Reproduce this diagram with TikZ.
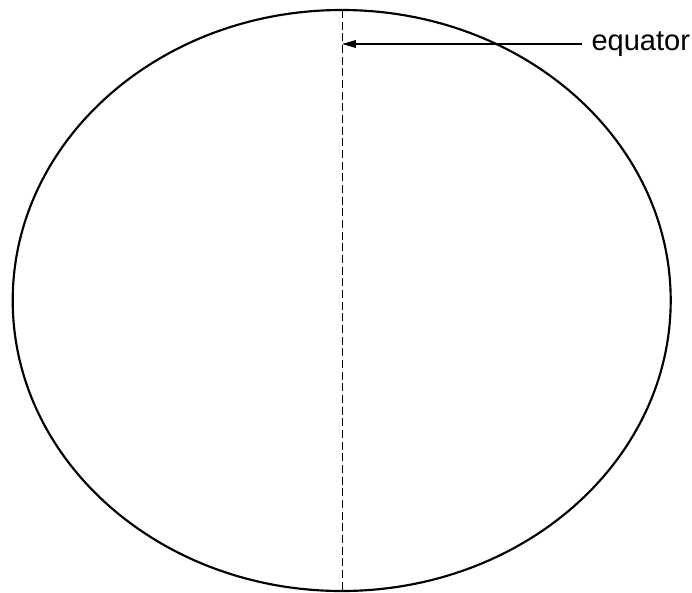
\documentclass[tikz,border=0pt]{standalone}
\usepackage{fontspec}
\setmainfont{Liberation Sans}
\usetikzlibrary{arrows.meta, calc}

\begin{document}
\begin{tikzpicture}[
        x=0.42pt, y=-0.42pt,
        outline/.style={
            draw,
            line width=0.9pt
        },
        axis/.style={
            draw,
            line width=0.4pt,
            dash pattern=on 3.4pt off 1.5pt
        },
        arrow/.style={
            -{Triangle[length=5.8pt, width=3.2pt]},
            line width=0.45pt
        },
        label/.style={
            font=\fontsize{12.2}{14}\selectfont,
            inner sep=3.8pt
        }
    ]

    \useasboundingbox (0,0) rectangle (692,592);

    \draw[outline] (341.7,300.5) ellipse [x radius=329, y radius=290.5];

    \coordinate (top) at (342,10);
    \coordinate (bottom) at (342,592);
    \draw[axis] (top) -- (bottom);

    \node[label, anchor=west] (equator) at (582,44) {equator};

    \draw[arrow] (equator.west) -- (equator.west -| top);

    \end{tikzpicture}
\end{document}
